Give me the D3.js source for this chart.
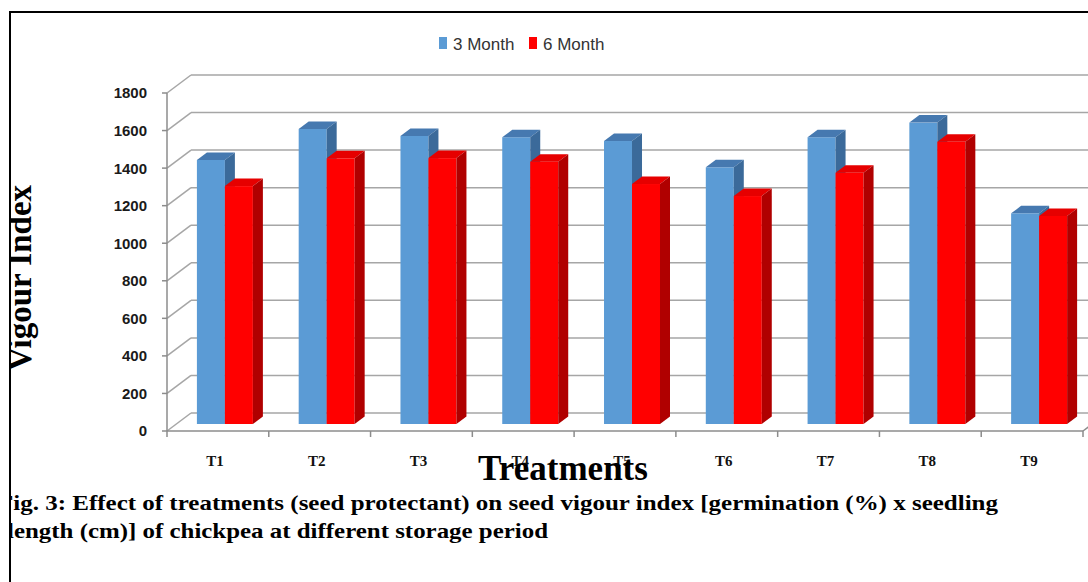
<!DOCTYPE html>
<html>
<head>
<meta charset="utf-8">
<script src="https://cdn.jsdelivr.net/npm/d3@7"></script>
<style>
  html, body { margin: 0; padding: 0; background: #fff; }
  svg { display: block; }
</style>
</head>
<body>
<div id="chart"></div>
<script>
const categories = ['T1', 'T2', 'T3', 'T4', 'T5', 'T6', 'T7', 'T8', 'T9'];
const seriesNames = ['3 Month', '6 Month'];
const month3 = [1406, 1571, 1534, 1527, 1507, 1367, 1527, 1605, 1122];
const month6 = [1267, 1415, 1416, 1397, 1278, 1214, 1338, 1503, 1108];
const yTicks = [0, 200, 400, 600, 800, 1000, 1200, 1400, 1600, 1800];
const captionLines = [
  'Fig. 3: Effect of treatments (seed protectant) on seed vigour index [germination (%) x seedling',
  'length (cm)] of chickpea at different storage period'
];

(function () {
  const W = 1088, H = 582;
  const svg = d3.select('#chart').append('svg')
    .attr('width', W).attr('height', H)
    .attr('role', 'img')
    .attr('aria-label', 'Seed vigour index by treatment at 3 and 6 months');

  // clip everything left of the frame
  svg.append('defs').append('clipPath').attr('id', 'frameClip')
    .append('rect').attr('x', 11).attr('y', 13).attr('width', W).attr('height', H);

  const root = svg.append('g').attr('clip-path', 'url(#frameClip)');

  const colors = {
    '3 Month': { front: '#5b9bd5', top: '#4679b0', side: '#3b6a9a' },
    '6 Month': { front: '#ff0000', top: '#e60000', side: '#b00000' }
  };

  // oblique 3D geometry
  const depth = [24, -18];      // floor depth vector
  const barOff = [9.3, -7];     // offset of bar front plane from front edge
  const barDepth = [10, -7.5];  // bar depth

  const x = d3.scaleBand().domain(categories).range([167, 1083]);
  const y = d3.scaleLinear().domain([0, 1800]).range([431, 93]);
  const sub = d3.scaleBand().domain(seriesNames)
    .range([0, x.bandwidth()]).paddingOuter(0.818).align(0.45);

  const grid = root.append('g').attr('fill', 'none').attr('stroke', '#a6a6a6').attr('stroke-width', 1.5);

  // back wall gridlines + side wall diagonals
  yTicks.forEach(t => {
    const yf = y(t);
    grid.append('line')
      .attr('x1', 167 + depth[0]).attr('y1', yf + depth[1])
      .attr('x2', W + 20).attr('y2', yf + depth[1]);
    grid.append('line')
      .attr('x1', 167).attr('y1', yf)
      .attr('x2', 167 + depth[0]).attr('y2', yf + depth[1]);
  });

  // front axis lines and floor right edge
  const axisG = root.append('g').attr('fill', 'none').attr('stroke', '#8c8c8c').attr('stroke-width', 1.5);
  axisG.append('line').attr('x1', 167).attr('y1', y(1800)).attr('x2', 167).attr('y2', y(0));
  axisG.append('line').attr('x1', 167).attr('y1', y(0)).attr('x2', 1083).attr('y2', y(0));
  axisG.append('line').attr('x1', 1083).attr('y1', y(0))
    .attr('x2', 1083 + depth[0]).attr('y2', y(0) + depth[1]);
  yTicks.forEach(t => {
    axisG.append('line').attr('x1', 162).attr('y1', y(t)).attr('x2', 167).attr('y2', y(t));
  });
  categories.concat(['end']).forEach((c, i) => {
    const xx = 167 + i * x.step();
    axisG.append('line').attr('x1', xx).attr('y1', y(0)).attr('x2', xx).attr('y2', y(0) + 6);
  });

  // y tick labels
  root.append('g').selectAll('text').data(yTicks).join('text')
    .attr('x', 147).attr('y', d => y(d))
    .attr('dy', '0.36em')
    .attr('text-anchor', 'end')
    .attr('font-family', '"Liberation Sans", Arial, sans-serif')
    .attr('font-weight', 700).attr('font-size', 15)
    .attr('fill', '#1a1a1a')
    .text(d => d);

  // bars
  const rows = categories.map((c, i) => ({ cat: c, vals: [month3[i], month6[i]] }));
  const barsG = root.append('g');
  rows.forEach(r => {
    r.vals.forEach((v, si) => {
      const s = seriesNames[si];
      const c = colors[s];
      const x0 = x(r.cat) + barOff[0] + sub(s);
      const w = sub.bandwidth();
      const yt = y(v) + barOff[1];
      const yb = y(0) + barOff[1];
      const [dx, dy] = barDepth;
      barsG.append('rect')
        .attr('x', x0).attr('y', yt).attr('width', w).attr('height', yb - yt)
        .attr('fill', c.front);
      barsG.append('polygon')
        .attr('points', [[x0, yt], [x0 + w, yt], [x0 + w + dx, yt + dy], [x0 + dx, yt + dy]].join(' '))
        .attr('fill', c.top);
      barsG.append('polygon')
        .attr('points', [[x0 + w, yt], [x0 + w + dx, yt + dy], [x0 + w + dx, yb + dy], [x0 + w, yb]].join(' '))
        .attr('fill', c.side);
    });
  });

  // x tick labels
  root.append('g').selectAll('text').data(categories).join('text')
    .attr('x', d => x(d) + x.bandwidth() / 2 - 3)
    .attr('y', 466)
    .attr('text-anchor', 'middle')
    .attr('font-family', '"Liberation Serif", "Times New Roman", serif')
    .attr('font-weight', 700).attr('font-size', 15)
    .attr('fill', '#111')
    .text(d => d);

  // axis titles
  root.append('text')
    .attr('x', 563).attr('y', 480)
    .attr('text-anchor', 'middle')
    .attr('font-family', '"Liberation Serif", "Times New Roman", serif')
    .attr('font-weight', 700).attr('font-size', 35)
    .attr('fill', '#000')
    .text('Treatments');

  // y title, partly cut by the frame as in the source
  root.append('text')
    .attr('transform', 'translate(31,278) rotate(-90)')
    .attr('text-anchor', 'middle')
    .attr('font-family', '"Liberation Serif", "Times New Roman", serif')
    .attr('font-weight', 700).attr('font-size', 33)
    .attr('fill', '#000')
    .text('Vigour Index');

  // legend
  const legend = root.append('g');
  const legendX = [439, 529];
  seriesNames.forEach((s, i) => {
    legend.append('rect')
      .attr('x', legendX[i]).attr('y', 37).attr('width', 8).attr('height', 12)
      .attr('fill', colors[s].front);
    legend.append('text')
      .attr('x', legendX[i] + 14).attr('y', 50)
      .attr('font-family', '"Liberation Sans", Arial, sans-serif')
      .attr('font-size', 17)
      .attr('fill', '#333')
      .text(s);
  });

  // caption
  const capX = [-2, 7], capY = [510, 538], capLen = [1000, 541];
  root.append('g').selectAll('text').data(captionLines).join('text')
    .attr('x', (d, i) => capX[i]).attr('y', (d, i) => capY[i])
    .attr('textLength', (d, i) => capLen[i])
    .attr('lengthAdjust', 'spacingAndGlyphs')
    .attr('font-family', '"Liberation Serif", "Times New Roman", serif')
    .attr('font-weight', 700).attr('font-size', 21)
    .attr('fill', '#000')
    .text(d => d);

  // frame
  svg.append('path')
    .attr('d', `M10,${H} L10,12 L${W},12`)
    .attr('fill', 'none').attr('stroke', '#000').attr('stroke-width', 2);
})();
</script>
</body>
</html>
